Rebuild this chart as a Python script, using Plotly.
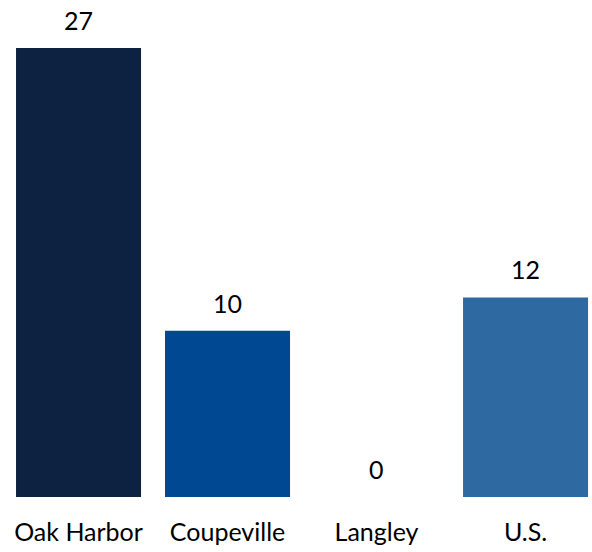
import plotly.graph_objects as go

categories = ["Oak Harbor", "Coupeville", "Langley", "U.S."]
values = [27, 10, 0, 12]
colors = ["#0D2240", "#004892", "#1F4E8C", "#2E6AA1"]

FONT = "Lato"

fig = go.Figure()
fig.add_trace(go.Bar(
    x=categories,
    y=values,
    marker=dict(color=colors, line=dict(width=0)),
    hoverinfo="skip",
))

for c, v in zip(categories, values):
    fig.add_annotation(
        x=c, y=v, text=str(v), showarrow=False,
        yanchor="bottom", yshift=11,
        font=dict(family=FONT, size=25, color="#000000"),
    )

fig.update_layout(
    width=592, height=552,
    margin=dict(l=0, r=0, t=0, b=54.5, pad=0),
    paper_bgcolor="white", plot_bgcolor="white",
    bargap=0.161,
    showlegend=False,
    xaxis=dict(
        range=[-0.527, 3.446],
        showgrid=False, zeroline=False, showline=False,
        ticks="outside", ticklen=13, tickcolor="rgba(0,0,0,0)",
        tickfont=dict(family=FONT, size=25, color="#000000"),
        automargin=False,
    ),
    yaxis=dict(
        range=[0, 29.88],
        visible=False, showgrid=False, zeroline=False,
    ),
)

fig.write_html(
    "out.html",
    config={"displayModeBar": False},
    post_script="document.body.style.margin='0';document.body.style.padding='0';",
)
